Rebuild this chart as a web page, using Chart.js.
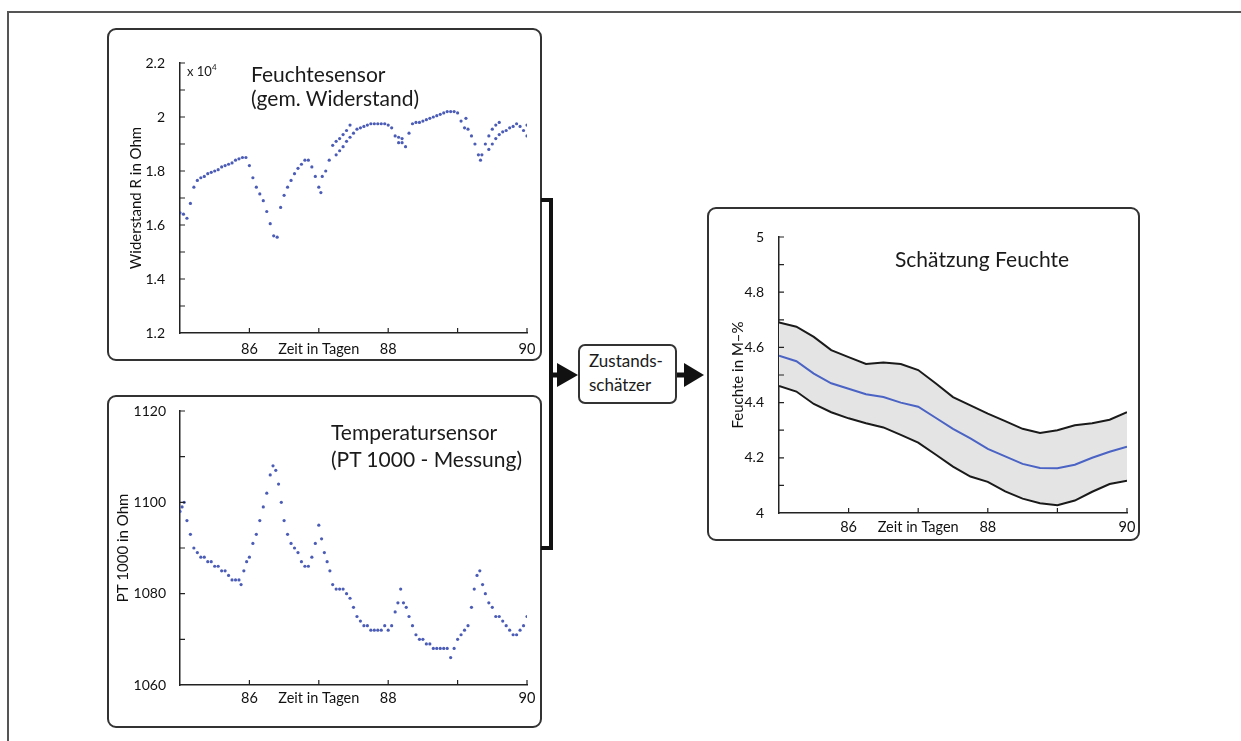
<!DOCTYPE html>
<html>
<head>
<meta charset="utf-8">
<script src="https://cdn.jsdelivr.net/npm/chart.js@4.4.0/dist/chart.umd.min.js"></script>
<style>
body { margin: 0; background: #fff; width: 1241px; height: 741px; overflow: hidden; position: relative; font-family: Lato, sans-serif; color: #1a1a1a; }
.frame { position: absolute; left: 7px; top: 11px; width: 1240px; height: 740px; border-left: 2px solid #555; border-top: 2px solid #555; }
.panel { position: absolute; border: 2px solid #333; border-radius: 9px; box-sizing: border-box; background: #fff; }
.plot { position: absolute; }
.title { position: absolute; font-size: 21px; line-height: 24px; white-space: nowrap; color: #1a1a1a; }
.box { position: absolute; left: 578px; top: 344px; width: 99px; height: 60px; box-sizing: border-box; border: 2px solid #333; border-radius: 7px; padding: 3px 0 0 9px; font-size: 17px; line-height: 24px; background: #fff; }
.exp { position: absolute; left: 187px; top: 62px; font-size: 13px; }
.exp sup { font-size: 8px; vertical-align: 6px; }
</style>
</head>
<body>
<div class="frame"></div>

<div class="panel" style="left:107px;top:28px;width:435px;height:333px"></div>
<div class="panel" style="left:107px;top:395px;width:435px;height:333px"></div>
<div class="panel" style="left:707px;top:207px;width:433px;height:334px"></div>

<div class="plot" style="left:107px;top:28px;width:435px;height:333px"><canvas id="humChart"></canvas></div>
<div class="plot" style="left:107px;top:395px;width:435px;height:333px"><canvas id="tempChart"></canvas></div>
<div class="plot" style="left:707px;top:207px;width:433px;height:334px"><canvas id="estChart"></canvas></div>

<div class="title" style="left:251px;top:62px">Feuchtesensor<br>(gem. Widerstand)</div>
<div class="exp">x 10<sup>4</sup></div>
<div class="title" style="left:331px;top:418px;line-height:27px">Temperatursensor<br>(PT 1000 - Messung)</div>
<div class="title" style="left:895px;top:247px">Schätzung Feuchte</div>

<div class="box">Zustands-<br>schätzer</div>

<svg width="1241" height="741" style="position:absolute;left:0;top:0">
  <path d="M541 200 H551 V548 H541" fill="none" stroke="#111" stroke-width="4"/>
  <path d="M551 375 H560" stroke="#111" stroke-width="5"/>
  <polygon points="557,363 557,387 578,375" fill="#111"/>
  <path d="M677 375 H688" stroke="#111" stroke-width="5"/>
  <polygon points="684,363 684,387 704,375" fill="#111"/>
</svg>

<script>
// Feuchtesensor: Zeit (Tage) und Widerstand (x 10^4 Ohm)
const humDays = [85.00, 85.05, 85.10, 85.15, 85.20, 85.25, 85.30, 85.35, 85.40, 85.45, 85.50, 85.55, 85.60, 85.65, 85.70, 85.75, 85.80, 85.85, 85.90, 85.95,
  86.00, 86.05, 86.10, 86.15, 86.20, 86.25, 86.30, 86.35, 86.40, 86.45, 86.50, 86.55, 86.60, 86.65, 86.70, 86.75, 86.80, 86.85, 86.90, 86.95,
  87.00, 87.03, 87.05, 87.10, 87.15, 87.20, 87.25, 87.30, 87.35, 87.40, 87.45,
  87.25, 87.30, 87.35, 87.40, 87.45, 87.50, 87.55, 87.60, 87.65, 87.70, 87.75, 87.80, 87.85, 87.90, 87.95,
  88.00, 88.05, 88.10, 88.15, 88.20, 88.25, 88.30, 88.35, 88.40, 88.45, 88.50, 88.55, 88.60, 88.65, 88.70, 88.75, 88.80, 88.85, 88.90, 88.95,
  89.00, 89.05, 89.10, 89.15, 89.20, 89.25, 89.30, 89.33, 89.35, 89.40, 89.45, 89.50, 89.55, 89.60,
  88.15, 88.20, 89.12, 89.45, 89.50, 89.55, 89.60, 89.65, 89.70, 89.75, 89.80, 89.85, 89.90, 89.95, 90.00, 90.00];
const humRes = [1.645, 1.64, 1.625, 1.68, 1.74, 1.765, 1.775, 1.78, 1.79, 1.795, 1.80, 1.805, 1.815, 1.82, 1.825, 1.83, 1.84, 1.845, 1.85, 1.85,
  1.82, 1.775, 1.74, 1.715, 1.69, 1.65, 1.605, 1.56, 1.555, 1.665, 1.71, 1.74, 1.765, 1.79, 1.81, 1.825, 1.84, 1.84, 1.815, 1.78,
  1.74, 1.72, 1.78, 1.80, 1.84, 1.895, 1.91, 1.92, 1.935, 1.95, 1.97,
  1.86, 1.875, 1.89, 1.91, 1.925, 1.94, 1.955, 1.96, 1.965, 1.97, 1.975, 1.975, 1.975, 1.975, 1.975,
  1.97, 1.96, 1.93, 1.905, 1.92, 1.89, 1.94, 1.975, 1.98, 1.98, 1.985, 1.99, 1.995, 2.0, 2.005, 2.01, 2.015, 2.02, 2.02, 2.02,
  2.015, 1.985, 1.96, 1.955, 1.93, 1.90, 1.86, 1.84, 1.86, 1.90, 1.93, 1.955, 1.97, 1.98,
  1.925, 1.905, 1.995, 1.88, 1.90, 1.92, 1.935, 1.945, 1.95, 1.96, 1.965, 1.975, 1.965, 1.95, 1.93, 1.97];

// Temperatursensor: Zeit (Tage) und PT 1000 (Ohm)
const tempDays = [85.00, 85.03, 85.06, 85.10, 85.15, 85.20, 85.25, 85.30, 85.35, 85.40, 85.45, 85.50, 85.55, 85.60, 85.65, 85.70, 85.75, 85.80, 85.85, 85.88,
  85.92, 85.96, 86.00, 86.05, 86.10, 86.15, 86.20, 86.25, 86.30, 86.34, 86.38, 86.42, 86.46, 86.50, 86.55, 86.60, 86.65, 86.70, 86.75, 86.80,
  86.85, 86.90, 86.95, 87.00, 87.04, 87.08, 87.12, 87.16, 87.20, 87.25, 87.30, 87.35, 87.40, 87.45, 87.50, 87.55, 87.60, 87.65, 87.70, 87.75,
  87.80, 87.85, 87.90, 87.95, 88.00, 88.05, 88.10, 88.14, 88.18, 88.22, 88.26, 88.30, 88.35, 88.40, 88.45, 88.50, 88.55, 88.60, 88.65, 88.70,
  88.75, 88.80, 88.85, 88.90, 88.95, 89.00, 89.05, 89.10, 89.15, 89.20, 89.24, 89.28, 89.32, 89.36, 89.40, 89.45, 89.50, 89.55, 89.60, 89.65,
  89.70, 89.75, 89.80, 89.85, 89.90, 89.95, 90.00];
const tempRes = [1098, 1099, 1100, 1096, 1093, 1090, 1089, 1088, 1088, 1087, 1087, 1086, 1086, 1085, 1085, 1084, 1083, 1083, 1083, 1082,
  1085, 1087, 1088, 1091, 1093, 1096, 1099, 1102, 1106, 1108, 1107, 1104, 1100, 1096, 1093, 1091, 1090, 1089, 1087, 1086,
  1086, 1088, 1091, 1095, 1092, 1089, 1087, 1085, 1082, 1081, 1081, 1081, 1080, 1079, 1077, 1075, 1074, 1073, 1073, 1072,
  1072, 1072, 1072, 1073, 1072, 1073, 1076, 1078, 1081, 1078, 1077, 1075, 1073, 1071, 1070, 1070, 1069, 1069, 1068, 1068,
  1068, 1068, 1068, 1066, 1068, 1070, 1071, 1072, 1073, 1077, 1081, 1084, 1085, 1082, 1080, 1078, 1077, 1075, 1075, 1074,
  1073, 1072, 1071, 1071, 1072, 1073, 1075];

// Schätzung Feuchte: Zeit (Tage), Mittelwert und Grenzen (M-%)
const estDays = [85, 85.25, 85.5, 85.75, 86, 86.25, 86.5, 86.75, 87, 87.25, 87.5, 87.75, 88, 88.25, 88.5, 88.75, 89, 89.25, 89.5, 89.75, 90];
const estMean = [4.57, 4.55, 4.505, 4.47, 4.45, 4.43, 4.42, 4.40, 4.385, 4.345, 4.305, 4.27, 4.232, 4.205, 4.178, 4.163, 4.162, 4.175, 4.20, 4.222, 4.24];
const estUpper = [4.69, 4.675, 4.638, 4.59, 4.565, 4.54, 4.545, 4.54, 4.518, 4.47, 4.42, 4.39, 4.36, 4.333, 4.305, 4.29, 4.30, 4.318, 4.325, 4.338, 4.365];
const estLower = [4.46, 4.44, 4.395, 4.365, 4.343, 4.325, 4.31, 4.283, 4.255, 4.212, 4.168, 4.132, 4.113, 4.078, 4.052, 4.035, 4.028, 4.045, 4.077, 4.105, 4.117];

const xLabels = { 86: '86', 87: 'Zeit in Tagen', 88: '88', 90: '90' };

function pairs(xs, ys) {
  return xs.map((x, i) => ({ x: x, y: ys[i] }));
}

// MATLAB style ticks pointing into the plot
const innerTicks = {
  id: 'innerTicks',
  afterDraw(chart) {
    const { ctx, scales: { x, y } } = chart;
    ctx.save();
    ctx.strokeStyle = '#222';
    ctx.lineWidth = 1.2;
    ctx.beginPath();
    x.ticks.forEach(t => {
      if (t.value === x.min) return;
      const px = x.getPixelForValue(t.value);
      ctx.moveTo(px, x.top);
      ctx.lineTo(px, x.top - 5);
    });
    y.ticks.forEach(t => {
      if (t.value === y.min) return;
      const py = y.getPixelForValue(t.value);
      ctx.moveTo(y.right, py);
      ctx.lineTo(y.right + 5, py);
    });
    ctx.stroke();
    ctx.restore();
  }
};

function makeChart(id, datasets, cfg) {
  return new Chart(document.getElementById(id), {
    type: 'scatter',
    data: { datasets: datasets },
    options: {
      responsive: true,
      maintainAspectRatio: false,
      animation: false,
      layout: { padding: { top: cfg.top, right: cfg.right, bottom: 0, left: 0 } },
      plugins: { legend: { display: false }, tooltip: { enabled: false }, filler: { drawTime: 'beforeDatasetsDraw' } },
      scales: {
        x: {
          type: 'linear', min: 85, max: 90,
          afterFit: s => { s.height = cfg.xh; },
          grid: { display: false },
          border: { display: true, color: '#222', width: 1.5 },
          ticks: {
            stepSize: 1, autoSkip: false, maxRotation: 0, padding: cfg.xpad,
            color: '#111', font: { family: 'Lato', size: 14.5 },
            callback: v => xLabels[v] || ''
          }
        },
        y: {
          type: 'linear', min: cfg.ymin, max: cfg.ymax,
          afterFit: s => { s.width = cfg.yw; },
          grid: { display: false },
          border: { display: true, color: '#222', width: 1.5 },
          title: { display: true, text: cfg.ytitle, color: '#111', font: { family: 'Lato', size: 15 }, padding: { top: cfg.tpad, bottom: 0 } },
          ticks: {
            stepSize: cfg.ystep, autoSkip: false, padding: cfg.ypad,
            color: '#111', font: { family: 'Lato', size: 14 },
            callback: cfg.ylabel
          }
        }
      }
    },
    plugins: [innerTicks]
  });
}

const dotStyle = { showLine: false, pointRadius: 1.6, pointBorderWidth: 0, pointBackgroundColor: 'rgba(55,74,175,0.9)' };

makeChart('humChart', [Object.assign({ data: pairs(humDays, humRes) }, dotStyle)], {
  top: 35, right: 15, xh: 28, yw: 73, xpad: 0, tpad: 20, ypad: 7,
  ymin: 1.2, ymax: 2.2, ystep: 0.1, ytitle: 'Widerstand R in Ohm',
  ylabel: v => { const k = Math.round(v * 10); return k % 2 ? '' : String(k / 10); }
});

makeChart('tempChart', [Object.assign({ data: pairs(tempDays, tempRes) }, dotStyle)], {
  top: 16, right: 15, xh: 43, yw: 73, xpad: -3, tpad: 7, ypad: 6,
  ymin: 1060, ymax: 1120, ystep: 10, ytitle: 'PT 1000 in Ohm',
  ylabel: v => (Math.round(v) % 20 ? '' : String(Math.round(v)))
});

const lineStyle = { showLine: true, pointRadius: 0, tension: 0, borderWidth: 2 };

makeChart('estChart', [
  Object.assign({ data: pairs(estDays, estUpper), borderColor: '#1a1a1a', fill: { target: 1 }, backgroundColor: '#e4e4e4' }, lineStyle),
  Object.assign({ data: pairs(estDays, estLower), borderColor: '#1a1a1a', fill: false }, lineStyle),
  Object.assign({ data: pairs(estDays, estMean), borderColor: '#4a63c4', fill: false }, lineStyle)
], {
  top: 30, right: 13, xh: 28, yw: 72, xpad: -2, tpad: 22, ypad: 7,
  ymin: 4, ymax: 5, ystep: 0.1, ytitle: 'Feuchte in M\u2013%',
  ylabel: v => { const k = Math.round(v * 10); return k % 2 ? '' : String(k / 10); }
});
</script>
</body>
</html>
